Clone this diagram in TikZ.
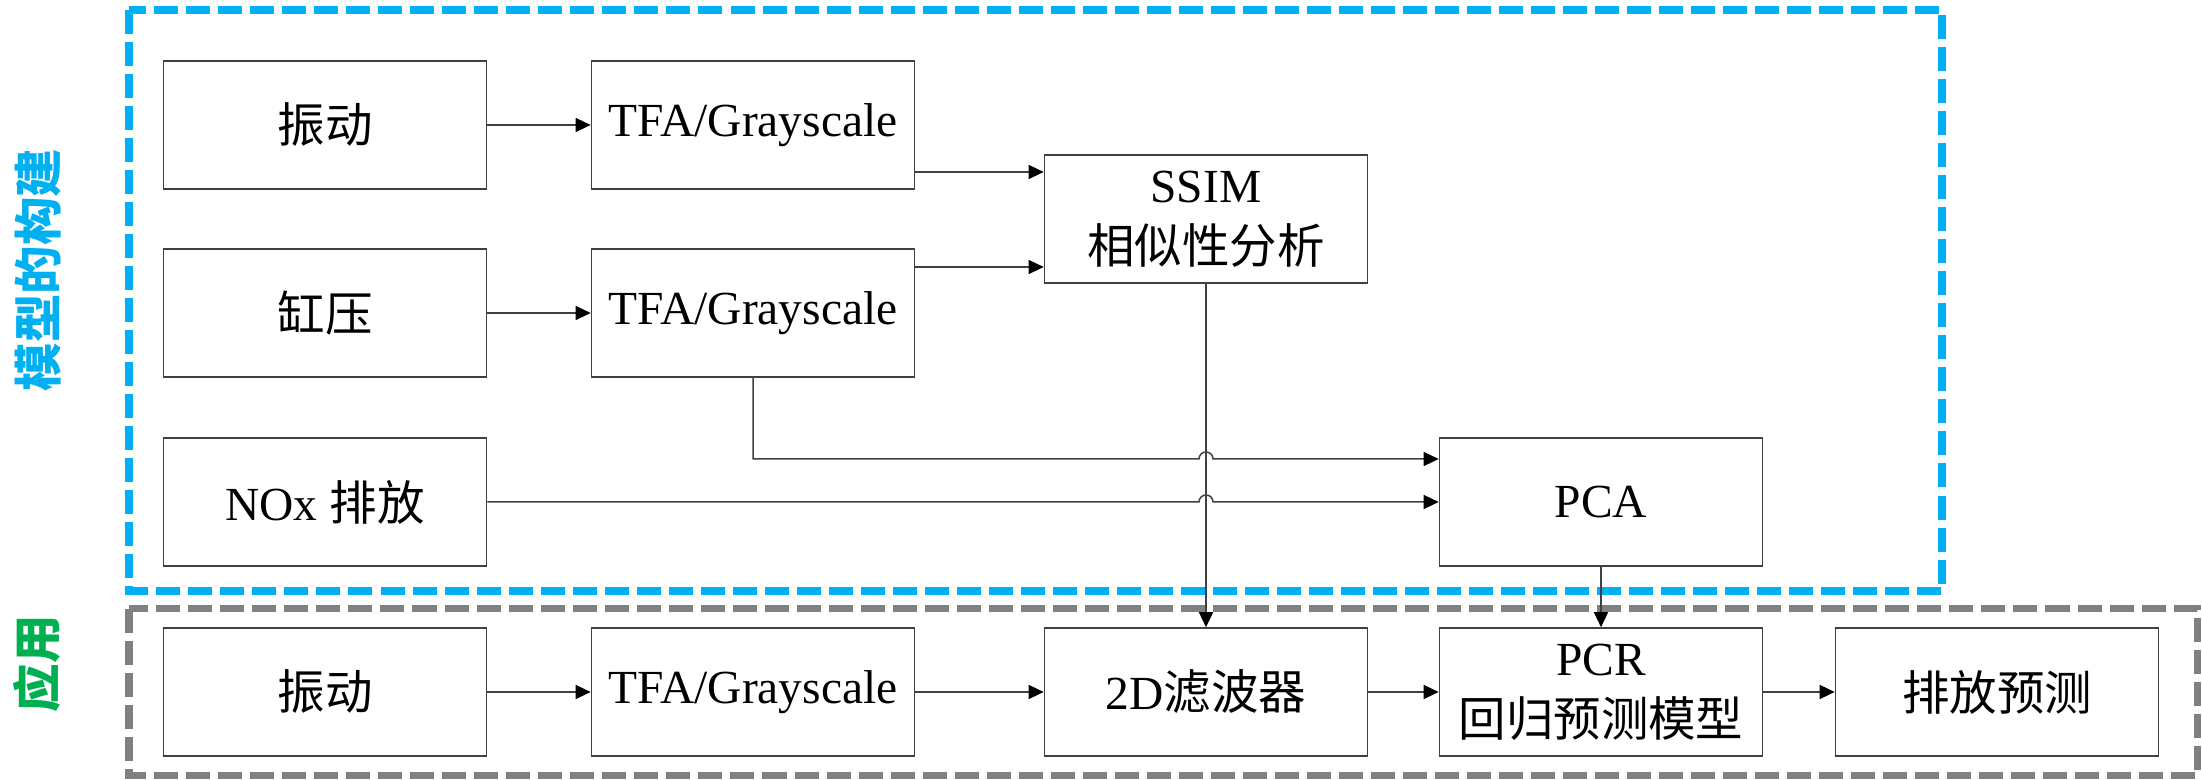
\documentclass[tikz,border=0pt]{standalone}
\usepackage{fontspec}
\setmainfont{Liberation Serif}
\newfontfamily\cjk{Noto Sans CJK SC}
\usetikzlibrary{arrows.meta,calc}
\definecolor{buildblue}{HTML}{00B0F0}
\definecolor{usegreen}{HTML}{00B050}
\definecolor{usegray}{HTML}{808080}
\definecolor{edgegray}{HTML}{404040}
\tikzset{
	blk/.style={draw=edgegray, line width=0.015cm, minimum width=3.23cm, minimum height=1.28cm, inner sep=0pt, align=center, font=\fontsize{13.5}{17.4}\selectfont},
	conn/.style={draw=edgegray, line width=0.015cm, -{Triangle[length=0.15cm,width=0.14cm,color=black]}},
	frame/.style={line width=0.08cm, dash pattern=on 0.24cm off 0.08cm},
	sidelabel/.style={rotate=90, inner sep=0pt, font=\cjk\bfseries\fontsize{13.8}{13.8}\selectfont}
}

\begin{document}
\begin{tikzpicture}[x=0.01cm, y=-0.01cm]
	\useasboundingbox (0,0) rectangle (2202,780);

	\draw[frame, buildblue] (129,10) rectangle (1942,591);
	\draw[frame, usegray, line width=0.07cm] (129,609) rectangle (2197,776);

	\node[sidelabel, text=buildblue] (buildlbl) at (38,270) {模型的构建};
	\node[sidelabel, text=usegreen] (uselbl) at (37,664) {应用};

	\node[blk] (vib1) at (325,125) {\cjk 振动};
	\node[blk] (tfa1) at (753,125) {TFA/Grayscale};
	\node[blk] (cyl) at (325,313) {\cjk 缸压};
	\node[blk] (tfa2) at (753,313) {TFA/Grayscale};
	\node[blk] (nox) at (325,502) {NOx {\cjk 排放}};
	\node[blk] (ssim) at (1206,219) {SSIM\\{\cjk 相似性分析}};
	\node[blk] (pca) at (1601,502) {PCA};

	\node[blk] (vib2) at (325,692) {\cjk 振动};
	\node[blk] (tfa3) at (753,692) {TFA/Grayscale};
	\node[blk] (filt) at (1206,692) {2D{\cjk 滤波器}};
	\node[blk] (pcr) at (1601,692) {PCR\\{\cjk 回归预测模型}};
	\node[blk] (pred) at (1997,692) {\cjk 排放预测};

	\draw[conn] (vib1) -- (tfa1);
	\draw[conn] (cyl) -- (tfa2);
	\draw[conn] (tfa1.east |- 0,172) -- (ssim.west |- 0,172);
	\draw[conn] (tfa2.east |- 0,267) -- (ssim.west |- 0,267);
	\draw[conn] (ssim) -- (filt);
	\draw[conn] (tfa2.south) |- ($(ssim.south |- 0,459)+(-7,0)$) arc[start angle=180, end angle=0, radius=0.07cm] -- (pca.west |- 0,459);
	\draw[conn] (nox) -- ($(ssim.south |- nox.east)+(-7,0)$) arc[start angle=180, end angle=0, radius=0.07cm] -- (pca.west);
	\draw[conn] (pca) -- (pcr);

	\draw[conn] (vib2) -- (tfa3);
	\draw[conn] (tfa3) -- (filt);
	\draw[conn] (filt) -- (pcr);
	\draw[conn] (pcr) -- (pred);
\end{tikzpicture}
\end{document}
